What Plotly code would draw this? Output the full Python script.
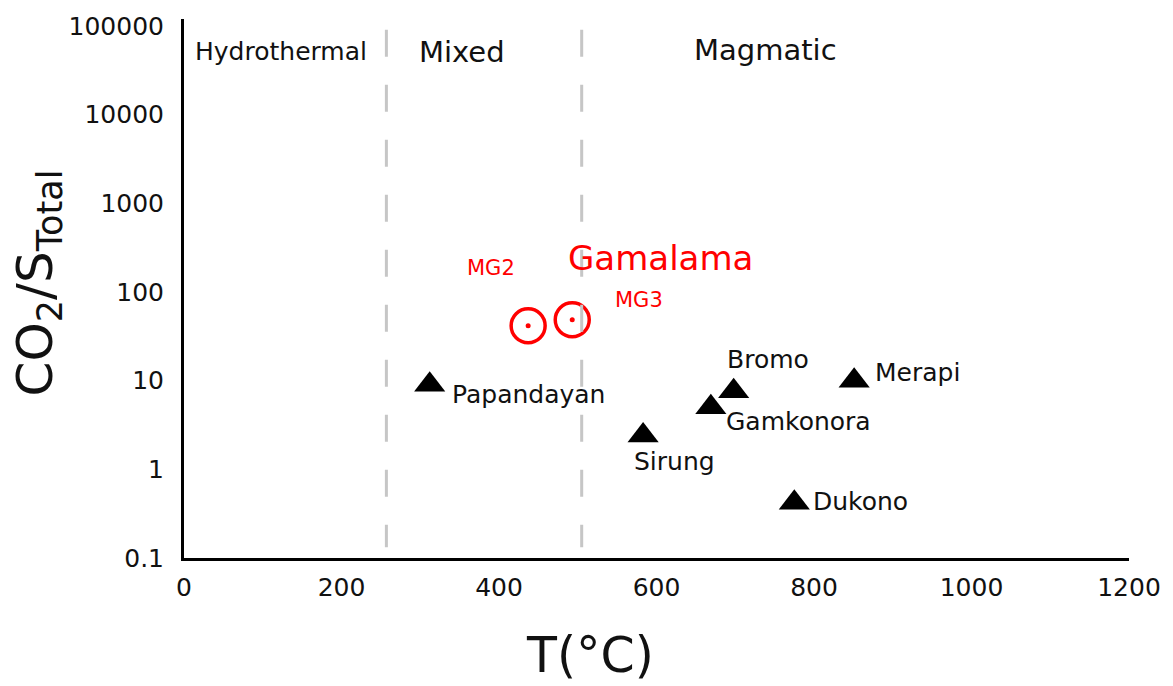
import numpy as np
import plotly.graph_objects as go

# Reference volcanoes: gas temperature (°C) and CO2/S_total ratio
volcanoes = ["Papandayan", "Sirung", "Gamkonora", "Bromo", "Dukono", "Merapi"]
volcano_temp = [312, 583, 669, 698, 775, 851]
volcano_ratio = [9.0, 2.4, 5.0, 7.6, 0.42, 10.0]

# Gamalama fumarole samples
samples = ["MG2", "MG3"]
sample_temp = [437, 493]
sample_ratio = [41.6, 48.6]

# Temperature boundaries between the regimes (°C)
regime_bounds = [257, 505]
regime_names = ["Hydrothermal", "Mixed", "Magmatic"]

x_ticks = [0, 200, 400, 600, 800, 1000, 1200]
y_ticks = [0.1, 1, 10, 100, 1000, 10000, 100000]
y_ticktext = ["0.1", "1", "10", "100", "1000", "10000", "100000"]

FONT = "DejaVu Sans"

# label placement (pixel offsets from each marker)
volcano_label_shift = {
    "Papandayan": (20, -10),
    "Sirung": (-11, -26),
    "Gamkonora": (13, -14),
    "Bromo": (-9, 32),
    "Dukono": (17, 1),
    "Merapi": (19, 8),
}
sample_label_shift = {"MG2": (-63, 58), "MG3": (41, 20)}
regime_label_style = {
    "Hydrothermal": dict(x=123, y=0.939, size=25),
    "Mixed": dict(x=353, y=0.939, size=29),
    "Magmatic": dict(x=738, y=0.943, size=29),
}

fig = go.Figure()

fig.add_trace(go.Scatter(
    x=volcano_temp, y=volcano_ratio, mode="markers",
    marker=dict(symbol="triangle-up", size=27, color="black"),
    showlegend=False, hoverinfo="skip",
))
fig.add_trace(go.Scatter(
    x=sample_temp, y=sample_ratio, mode="markers",
    marker=dict(symbol="circle-open", size=34, color="#ff0000",
                line=dict(width=3.5, color="#ff0000")),
    showlegend=False, hoverinfo="skip",
))
fig.add_trace(go.Scatter(
    x=sample_temp, y=sample_ratio, mode="markers",
    marker=dict(symbol="circle", size=5, color="#ff0000"),
    showlegend=False, hoverinfo="skip",
))

for xb in regime_bounds:
    fig.add_shape(type="line", xref="x", yref="paper", x0=xb, x1=xb,
                  y0=0.98, y1=0.02,
                  line=dict(color="#c6c6c6", width=3, dash="27px,28px"))

annotations = []
for name in regime_names:
    st = regime_label_style[name]
    annotations.append(dict(x=st["x"], y=st["y"], xref="x", yref="paper",
                            text=name, showarrow=False,
                            xanchor="center", yanchor="middle",
                            font=dict(family=FONT, size=st["size"], color="#111111")))

for name, t, r in zip(volcanoes, volcano_temp, volcano_ratio):
    dx, dy = volcano_label_shift[name]
    annotations.append(dict(x=t, y=np.log10(r), xref="x", yref="y", text=name,
                            showarrow=False, xanchor="left", yanchor="middle",
                            xshift=dx, yshift=dy,
                            font=dict(family=FONT, size=25, color="#111111")))

for name, t, r in zip(samples, sample_temp, sample_ratio):
    dx, dy = sample_label_shift[name]
    annotations.append(dict(x=t, y=np.log10(r), xref="x", yref="y", text=name,
                            showarrow=False, xanchor="left", yanchor="middle",
                            xshift=dx, yshift=dy,
                            font=dict(family=FONT, size=21, color="#ff0000")))

annotations.append(dict(x=sample_temp[1], y=np.log10(sample_ratio[1]), xref="x", yref="y",
                        text="Gamalama", showarrow=False, xanchor="left", yanchor="middle",
                        xshift=-6, yshift=62,
                        font=dict(family=FONT, size=34, color="#ff0000")))

# axis titles
annotations.append(dict(x=0.5, y=-0.18, xref="paper", yref="paper",
                        text="T(°C)", showarrow=False, yanchor="middle",
                        xshift=-67,
                        font=dict(family=FONT, size=49, color="#111111")))
annotations.append(dict(x=0, y=0.5, xref="paper", yref="paper",
                        text="CO<sub>2</sub>/S<sub>Total</sub>", showarrow=False,
                        textangle=-90, xanchor="center", yanchor="middle",
                        xshift=-146, yshift=5,
                        font=dict(family=FONT, size=50, color="#111111")))

fig.update_layout(
    width=1173, height=686,
    margin=dict(l=184, r=40, t=15, b=128),
    paper_bgcolor="white", plot_bgcolor="white",
    annotations=annotations,
    font=dict(family=FONT, color="#111111"),
)
fig.update_xaxes(
    range=[0, 1200], tickmode="array", tickvals=x_ticks,
    showgrid=False, zeroline=False, showline=True, linecolor="black", linewidth=3,
    ticks="", tickfont=dict(family=FONT, size=25, color="#111111"),
    ticklabelstandoff=5,
)
fig.update_yaxes(
    type="log", range=[-1, 5.078], tickmode="array", tickvals=y_ticks, ticktext=y_ticktext,
    showgrid=False, zeroline=False, showline=True, linecolor="black", linewidth=3,
    ticks="", tickfont=dict(family=FONT, size=25, color="#111111"),
    ticklabelstandoff=12,
)

fig.write_html("out.html")
